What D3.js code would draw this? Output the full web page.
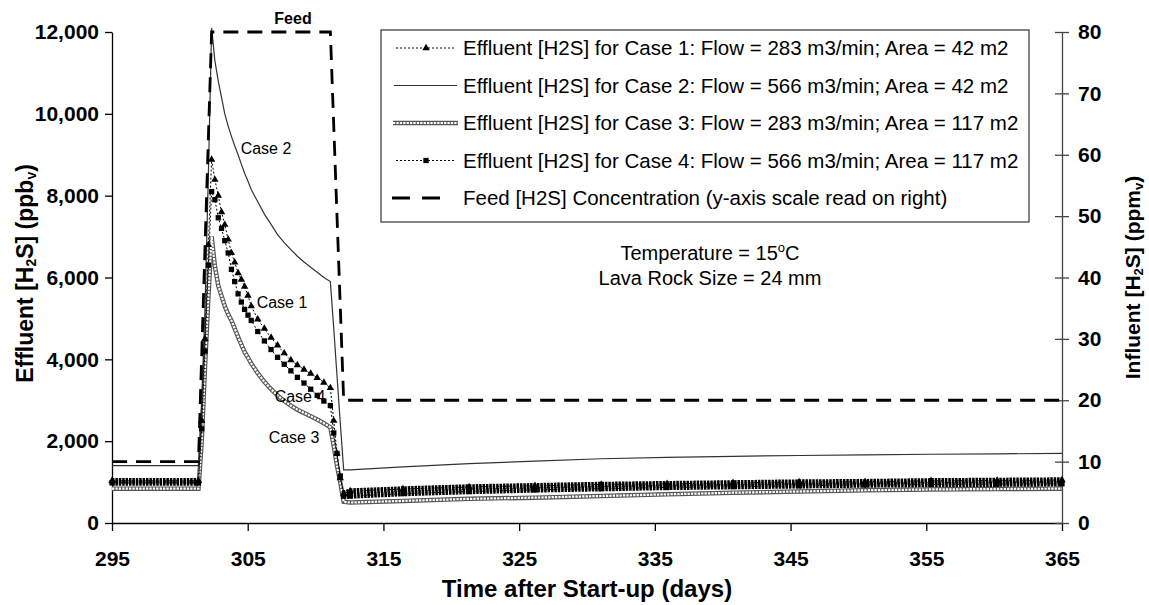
<!DOCTYPE html>
<html>
<head>
<meta charset="utf-8">
<script src="https://cdn.jsdelivr.net/npm/d3@7/dist/d3.min.js"></script>
<style>
  body { margin: 0; background: #fff; }
  text { font-family: Arial, "Liberation Sans", sans-serif; }
</style>
</head>
<body>
<div id="chart"></div>
<script>
// sample times (days after start-up) shared by the four effluent cases
const days = [295, 301.37, 301.61, 301.85, 302.1, 302.34, 302.58, 302.83, 303.07, 303.31, 303.56, 303.8, 304.04, 304.29, 304.53,
  304.77, 305.02, 305.26, 305.74, 306.23, 306.72, 307.2, 307.69, 308.18, 308.66, 309.15, 309.64, 310.12, 310.61, 311.09,
  311.34, 311.58, 311.82, 312.07, 312.55, 316.44, 321.31, 326.17, 331.04, 335.9, 340.76, 345.63, 350.49, 355.35, 360.22, 365];

// effluent H2S, ppbv
const case1 = [1030, 1030, 2500, 4500, 6800, 8880, 8390, 8000, 7600, 7290, 6930, 6600, 6370, 6110, 5950,
  5780, 5560, 5300, 4980, 4750, 4530, 4340, 4150, 3980, 3860, 3750, 3650, 3550, 3430, 3300, 2500, 1700, 1100, 720,
  780, 830, 880, 910, 940, 960, 980, 1000, 1010, 1030, 1040, 1050];
const case2 = [1400, 1400, 3000, 5200, 8500, 12100, 11300, 10800, 10400, 10000, 9700, 9450, 9220, 9000, 8770,
  8550, 8350, 8150, 7850, 7550, 7300, 7050, 6850, 6680, 6520, 6380, 6250, 6130, 6000, 5900, 4750, 3600, 2450, 1300,
  1300, 1370, 1450, 1510, 1570, 1605, 1630, 1650, 1665, 1680, 1690, 1700];
const case3 = [840, 840, 2000, 3800, 5500, 7000, 6280, 5800, 5550, 5300, 5100, 4950, 4750, 4550, 4360,
  4180, 4040, 3900, 3660, 3450, 3270, 3120, 2980, 2870, 2770, 2690, 2610, 2530, 2440, 2340, 1880, 1400, 1000, 520,
  500, 540, 590, 620, 660, 700, 740, 770, 800, 820, 830, 840];
const case4 = [980, 980, 2300, 4200, 6300, 8100, 7900, 7460, 7200, 6900, 6600, 6200, 5900, 5600, 5400,
  5220, 5080, 4950, 4680, 4450, 4240, 4050, 3880, 3720, 3560, 3420, 3270, 3120, 2980, 2870, 2200, 1700, 1150, 660,
  660, 720, 770, 810, 840, 870, 890, 910, 930, 940, 950, 960];

// feed H2S, ppmv (right axis)
const feedDays = [295, 301.37, 302.34, 311.09, 312.07, 365];
const feedPpm = [10, 10, 80, 80, 20, 20];

const xTicks = [295, 305, 315, 325, 335, 345, 355, 365];
const leftTicks = [0, 2000, 4000, 6000, 8000, 10000, 12000];
const rightTicks = [0, 10, 20, 30, 40, 50, 60, 70, 80];

const legendLabels = [
  "Effluent [H2S] for Case 1: Flow = 283 m3/min; Area = 42 m2",
  "Effluent [H2S] for Case 2: Flow = 566 m3/min; Area = 42 m2",
  "Effluent [H2S] for Case 3: Flow = 283 m3/min; Area = 117 m2",
  "Effluent [H2S] for Case 4: Flow = 566 m3/min; Area = 117 m2",
  "Feed [H2S] Concentration (y-axis scale read on right)"
];

var w = 1149, h = 605;
const margin = {top: 32, right: 87, bottom: 82, left: 112};

var svg = d3.select("#chart").append("svg")
  .attr("width", w)
  .attr("height", h);

var x = d3.scaleLinear().domain([295, 365]).range([margin.left, w - margin.right]);
var yL = d3.scaleLinear().domain([0, 12000]).range([h - margin.bottom, margin.top]);
var yR = d3.scaleLinear().domain([0, 80]).range([h - margin.bottom, margin.top]);

//axes
var gx = svg.append("g")
  .attr("transform", "translate(0," + (h - margin.bottom) + ")")
  .call(d3.axisBottom(x).tickValues(xTicks).tickSize(8).tickSizeOuter(0).tickPadding(20));
var gl = svg.append("g")
  .attr("transform", "translate(" + margin.left + ",0)")
  .call(d3.axisLeft(yL).tickValues(leftTicks).tickFormat(d3.format(",")).tickSize(7).tickSizeOuter(0).tickPadding(6));
var gr = svg.append("g")
  .attr("transform", "translate(" + (w - margin.right) + ",0)")
  .call(d3.axisRight(yR).tickValues(rightTicks).tickSize(7).tickSizeOuter(0).tickPadding(9));
gr.selectAll(".tick line").attr("x1", -7);

[gx, gl, gr].forEach(g => {
  g.selectAll("text").attr("font-size", 21).attr("font-weight", "bold").attr("fill", "#000")
    .style("font-family", "Arial, 'Liberation Sans', sans-serif");
  g.selectAll("line, path").attr("stroke", "#000").attr("stroke-width", 1.3);
});
gr.selectAll("line, path").attr("stroke", "#444");

// axis titles
svg.append("text")
  .attr("x", (margin.left + w - margin.right) / 2)
  .attr("y", 597)
  .attr("text-anchor", "middle")
  .attr("font-size", 24).attr("font-weight", "bold")
  .text("Time after Start-up (days)");

var lt = svg.append("text")
  .attr("transform", "translate(25," + ((margin.top + h - margin.bottom) / 2 - 4) + ") rotate(-90)")
  .attr("text-anchor", "middle").attr("dy", "0.35em")
  .attr("font-size", 23).attr("font-weight", "bold");
lt.append("tspan").text("Effluent [H");
lt.append("tspan").attr("font-size", 14).attr("dy", 3).text("2");
lt.append("tspan").attr("dy", -3).text("S] (ppb");
lt.append("tspan").attr("font-size", 14).attr("dy", 3).text("v");
lt.append("tspan").attr("dy", -3).text(")");

var rt = svg.append("text")
  .attr("transform", "translate(1133," + ((margin.top + h - margin.bottom) / 2) + ") rotate(-90)")
  .attr("text-anchor", "middle").attr("dy", "0.35em")
  .attr("font-size", 21).attr("font-weight", "bold");
rt.append("tspan").text("Influent [H");
rt.append("tspan").attr("font-size", 13).attr("dy", 3).text("2");
rt.append("tspan").attr("dy", -3).text("S] (ppm");
rt.append("tspan").attr("font-size", 13).attr("dy", 3).text("v");
rt.append("tspan").attr("dy", -3).text(")");

// series
const pts = vals => days.map((t, i) => ({t: t, v: vals[i]}));
var line = d3.line().x(d => x(d.t)).y(d => yL(d.v));
// marker band where the samples are packed tightly (baseline and tail)
var flatLine = d3.line().defined(d => d.t <= 301.4 || d.t >= 312).x(d => x(d.t)).y(d => yL(d.v));

function chain(g, path) {
  g.append("path").attr("d", path).attr("fill", "none").attr("stroke", "#555").attr("stroke-width", 4.5);
  g.append("path").attr("d", path).attr("fill", "none").attr("stroke", "#fff").attr("stroke-width", 2.2)
    .attr("stroke-dasharray", "2.3,1.1");
}

var plot = svg.append("g");

// case 3 - chain of small circles
chain(plot, line(pts(case3)));

// case 2 - thin solid
plot.append("path").attr("d", line(pts(case2)))
  .attr("fill", "none").attr("stroke", "#333").attr("stroke-width", 1.2);

// case 4 - dotted with squares
plot.append("path").attr("d", line(pts(case4)))
  .attr("fill", "none").attr("stroke", "#000").attr("stroke-width", 1).attr("stroke-dasharray", "2,2");
plot.append("path").attr("d", flatLine(pts(case4)))
  .attr("fill", "none").attr("stroke", "#000").attr("stroke-width", 5.5).attr("stroke-dasharray", "2.5,0.9");
plot.selectAll(".sq").data(pts(case4)).enter().append("path")
  .attr("d", d3.symbol(d3.symbolSquare, 28))
  .attr("transform", d => "translate(" + x(d.t) + "," + yL(d.v) + ")")
  .attr("fill", "#000");

// case 1 - dotted with triangles
plot.append("path").attr("d", line(pts(case1)))
  .attr("fill", "none").attr("stroke", "#000").attr("stroke-width", 1).attr("stroke-dasharray", "2,2");
plot.append("path").attr("d", flatLine(pts(case1)))
  .attr("fill", "none").attr("stroke", "#000").attr("stroke-width", 5.5).attr("stroke-dasharray", "2.5,0.9");
plot.selectAll(".tri").data(pts(case1)).enter().append("path")
  .attr("d", d3.symbol(d3.symbolTriangle, 24))
  .attr("transform", d => "translate(" + x(d.t) + "," + yL(d.v) + ")")
  .attr("fill", "#000");

// feed - long dashes on right axis scale
var feedLine = d3.line().x(d => x(d[0])).y(d => yR(d[1]));
plot.append("path").attr("d", feedLine(feedDays.map((t, i) => [t, feedPpm[i]])))
  .attr("fill", "none").attr("stroke", "#000").attr("stroke-width", 2.8).attr("stroke-dasharray", "15,9");

// in-plot labels
const caseLabels = [["Case 2", 266, 148], ["Case 1", 282, 302], ["Case 4", 300, 396], ["Case 3", 294, 437]];
svg.selectAll(".clab").data(caseLabels).enter().append("text")
  .attr("x", d => d[1]).attr("y", d => d[2]).attr("dy", "0.35em")
  .attr("text-anchor", "middle").attr("font-size", 16)
  .text(d => d[0]);
svg.append("text").attr("x", 293).attr("y", 24).attr("text-anchor", "middle")
  .attr("font-size", 16).attr("font-weight", "bold").text("Feed");

//legend
var lg = svg.append("g");
lg.append("rect").attr("x", 381).attr("y", 30).attr("width", 648).attr("height", 192)
  .attr("fill", "#fff").attr("stroke", "#333").attr("stroke-width", 1.2);
var rowY = i => 48 + i * 37.5;
legendLabels.forEach((s, i) => {
  lg.append("text").attr("x", 463).attr("y", rowY(i)).attr("dy", "0.35em")
    .attr("font-size", 20.5).text(s);
});
// samples
lg.append("line").attr("x1", 396).attr("x2", 456).attr("y1", rowY(0)).attr("y2", rowY(0))
  .attr("stroke", "#000").attr("stroke-dasharray", "2,2");
lg.append("path").attr("d", d3.symbol(d3.symbolTriangle, 24)).attr("transform", "translate(426," + rowY(0) + ")");
lg.append("line").attr("x1", 394).attr("x2", 457).attr("y1", rowY(1)).attr("y2", rowY(1))
  .attr("stroke", "#333").attr("stroke-width", 1.2);
chain(lg, "M393," + rowY(2) + "H458");
lg.append("line").attr("x1", 396).attr("x2", 456).attr("y1", rowY(3)).attr("y2", rowY(3))
  .attr("stroke", "#000").attr("stroke-dasharray", "2,2");
lg.append("path").attr("d", d3.symbol(d3.symbolSquare, 28)).attr("transform", "translate(426," + rowY(3) + ")");
lg.append("line").attr("x1", 392).attr("x2", 449).attr("y1", rowY(4)).attr("y2", rowY(4))
  .attr("stroke", "#000").attr("stroke-width", 2.8).attr("stroke-dasharray", "18,12");

// conditions note
var t1 = svg.append("text").attr("x", 710).attr("y", 253).attr("dy", "0.35em")
  .attr("text-anchor", "middle").attr("font-size", 20);
t1.append("tspan").text("Temperature = 15");
t1.append("tspan").attr("font-size", 13).attr("dy", -8).text("o");
t1.append("tspan").attr("dy", 8).text("C");
svg.append("text").attr("x", 710).attr("y", 278).attr("dy", "0.35em")
  .attr("text-anchor", "middle").attr("font-size", 20).text("Lava Rock Size = 24 mm");
</script>
</body>
</html>
